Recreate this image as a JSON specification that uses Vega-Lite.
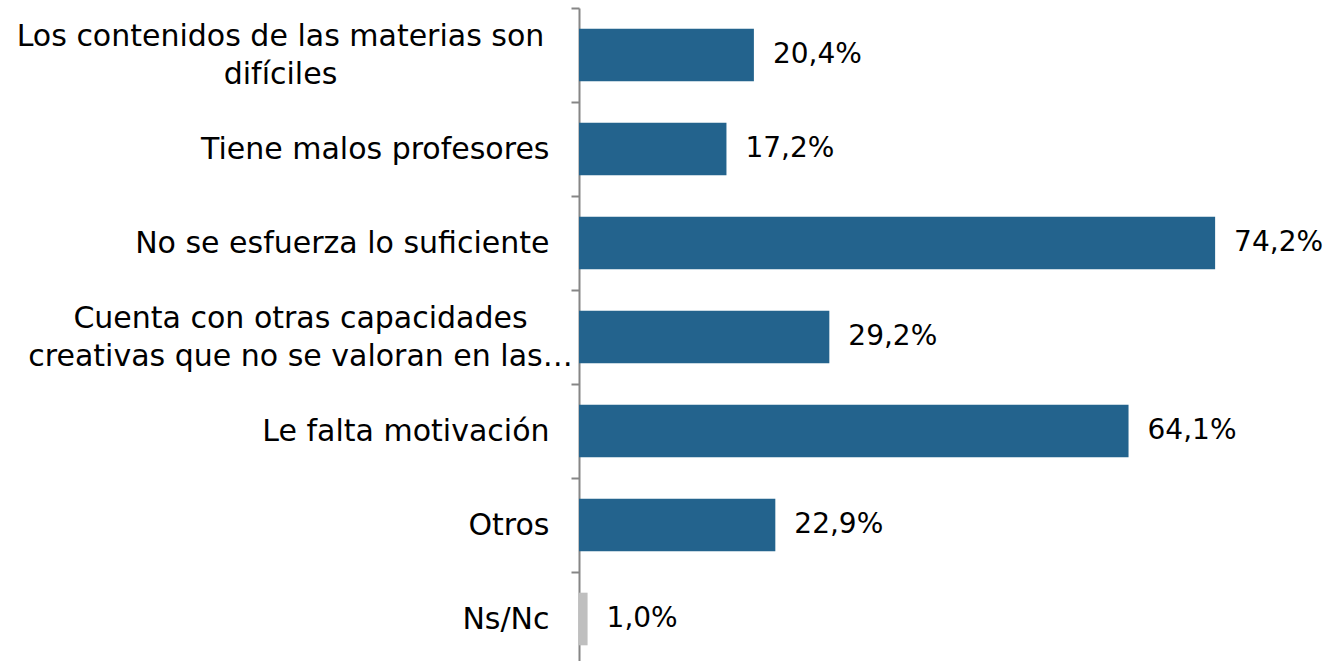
{
  "$schema": "https://vega.github.io/schema/vega-lite/v6.json",
  "autosize": "none",
  "width": 745,
  "height": 658,
  "padding": {"left": 579, "top": 8, "right": 0, "bottom": 0},
  "background": "white",
  "data": {
    "values": [
      {"cat": "Los contenidos de las materias son|difíciles", "value": 20.4, "label": "20,4%", "grp": "a"},
      {"cat": "Tiene malos profesores", "value": 17.2, "label": "17,2%", "grp": "a"},
      {"cat": "No se esfuerza lo suficiente", "value": 74.2, "label": "74,2%", "grp": "a"},
      {"cat": "Cuenta con otras capacidades|creativas que no se valoran en las…", "value": 29.2, "label": "29,2%", "grp": "a"},
      {"cat": "Le falta motivación", "value": 64.1, "label": "64,1%", "grp": "a"},
      {"cat": "Otros", "value": 22.9, "label": "22,9%", "grp": "a"},
      {"cat": "Ns/Nc", "value": 1.0, "label": "1,0%", "grp": "b"}
    ]
  },
  "encoding": {
    "y": {
      "field": "cat",
      "type": "nominal",
      "sort": null,
      "scale": {"paddingInner": 0.44, "paddingOuter": 0.22},
      "axis": {
        "title": null,
        "labelExpr": "split(datum.label, '|')",
        "labelFont": "DejaVu Sans",
        "labelFontSize": 30,
        "labelColor": "#000000",
        "labelLineHeight": 38,
        "labelLimit": 600,
        "labelAlign": {"condition": {"test": "indexof(datum.value, '|') >= 0", "value": "center"}, "value": "right"},
        "labelPadding": {"condition": [
          {"test": "indexof(datum.value, 'Los contenidos') >= 0", "value": 291},
          {"test": "indexof(datum.value, 'Cuenta con') >= 0", "value": 271}
        ], "value": 22},
        "tickOffset": -47,
        "labelOffset": {"condition": {"test": "indexof(datum.value, '|') >= 0", "value": 28}, "value": 47},
        "tickSize": 8,
        "tickColor": "#868686",
        "tickWidth": 2,
        "domainColor": "#868686",
        "domainWidth": 2,
        "grid": false
      }
    },
    "x": {
      "field": "value",
      "type": "quantitative",
      "scale": {"domain": [0, 86.9], "nice": false, "zero": true},
      "axis": null
    }
  },
  "layer": [
    {
      "mark": {"type": "bar"},
      "encoding": {
        "color": {
          "field": "grp",
          "type": "nominal",
          "scale": {"domain": ["a", "b"], "range": ["#23638d", "#bfbfbf"]},
          "legend": null
        }
      }
    },
    {
      "mark": {"type": "text", "align": "left", "baseline": "middle", "dx": 19, "font": "DejaVu Sans", "fontSize": 28, "color": "#000000"},
      "encoding": {"text": {"field": "label"}}
    }
  ],
  "config": {"view": {"stroke": null}}
}
